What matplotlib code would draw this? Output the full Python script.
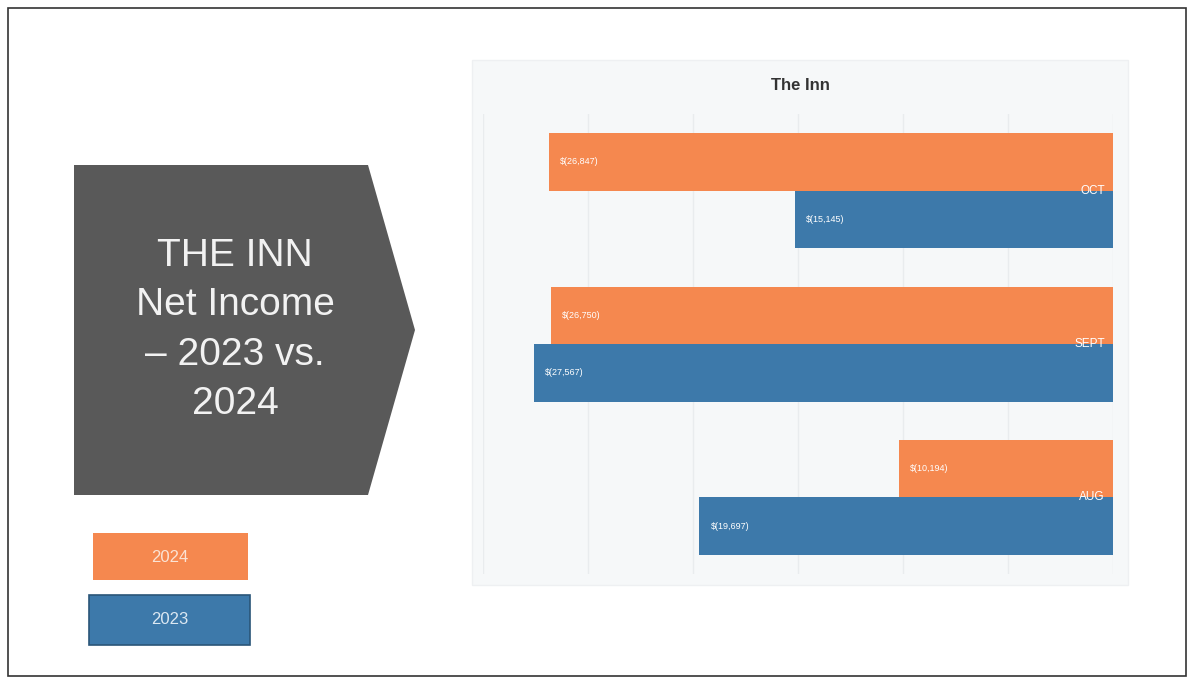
import matplotlib.pyplot as plt
from matplotlib.patches import Polygon, Rectangle
import numpy as np

plt.rcParams["font.family"] = ["Liberation Sans", "DejaVu Sans"]

months = ["OCT", "SEPT", "AUG"]
net_2024 = [-26847, -26750, -10194]
net_2023 = [-15145, -27567, -19697]
years = ["2024", "2023"]

orange = "#F5884F"
blue = "#3D79AA"

W, H = 1191, 680
fig = plt.figure(figsize=(W / 100, H / 100), dpi=100)


def fx(px):
    return px / W


def fy(py):
    return 1 - py / H


# outer frame
fig.patches.append(Rectangle((fx(8), fy(676)), fx(1178), 668 / H, transform=fig.transFigure,
                             fill=False, edgecolor="#333333", linewidth=1.2, zorder=-1))

# chart panel
fig.patches.append(Rectangle((fx(472), fy(585)), fx(656), 525 / H, transform=fig.transFigure,
                             facecolor="#F6F8F9", edgecolor="#EEF0F2", linewidth=1, zorder=-1))
fig.text(fx(800), fy(86), "The Inn", ha="center", va="center", fontsize=12,
         fontweight="bold", color="#333333")

# title arrow
arrow = [(74, 165), (368, 165), (415, 330), (368, 495), (74, 495)]
fig.patches.append(Polygon([(fx(x), fy(y)) for x, y in arrow], closed=True,
                           transform=fig.transFigure, facecolor="#595959", edgecolor="none"))
fig.text(fx(235), fy(330), "THE INN\nNet Income\n– 2023 vs.\n2024", ha="center", va="center",
         fontsize=28, color="#F2F2F2", linespacing=1.48)

# legend boxes
fig.patches.append(Rectangle((fx(93), fy(580)), fx(155), 47 / H, transform=fig.transFigure,
                             facecolor=orange, edgecolor="none"))
fig.text(fx(170), fy(557), years[0], ha="center", va="center", fontsize=12, color="#FBE3D4")
fig.patches.append(Rectangle((fx(89), fy(645)), fx(161), 50 / H, transform=fig.transFigure,
                             facecolor=blue, edgecolor="#2A5578", linewidth=1.2))
fig.text(fx(170), fy(620), years[1], ha="center", va="center", fontsize=12, color="#DCE8F2")

# bar chart
ax = fig.add_axes([fx(483), fy(574), 630 / W, 460 / H])
ax.set_zorder(2)
ax.set_facecolor("none")
y = np.arange(len(months))
h = 0.375
ax.barh(y - h / 2, net_2024, height=h, color=orange)
ax.barh(y + h / 2, net_2023, height=h, color=blue)
ax.set_xlim(-30000, 0)
ax.set_ylim(2.5, -0.5)
ax.set_xticks(np.arange(-30000, 1, 5000))
ax.grid(axis="x", color="#E9ECEE", linewidth=1)
ax.set_axisbelow(True)
ax.tick_params(left=False, bottom=False, labelleft=False, labelbottom=False)
for s in ax.spines.values():
    s.set_visible(False)

for i in range(len(months)):
    for v, off in ((net_2024[i], -h / 2), (net_2023[i], h / 2)):
        ax.annotate(f"$({abs(v):,})", (v, i + off), xytext=(8, 0), textcoords="offset points",
                    ha="left", va="center", fontsize=6.5, color="white")
    ax.annotate(months[i], (0, i), xytext=(-6, 0), textcoords="offset points",
                ha="right", va="center", fontsize=8.5, color="white")

fig.savefig("out.png", dpi=100, facecolor="white")
